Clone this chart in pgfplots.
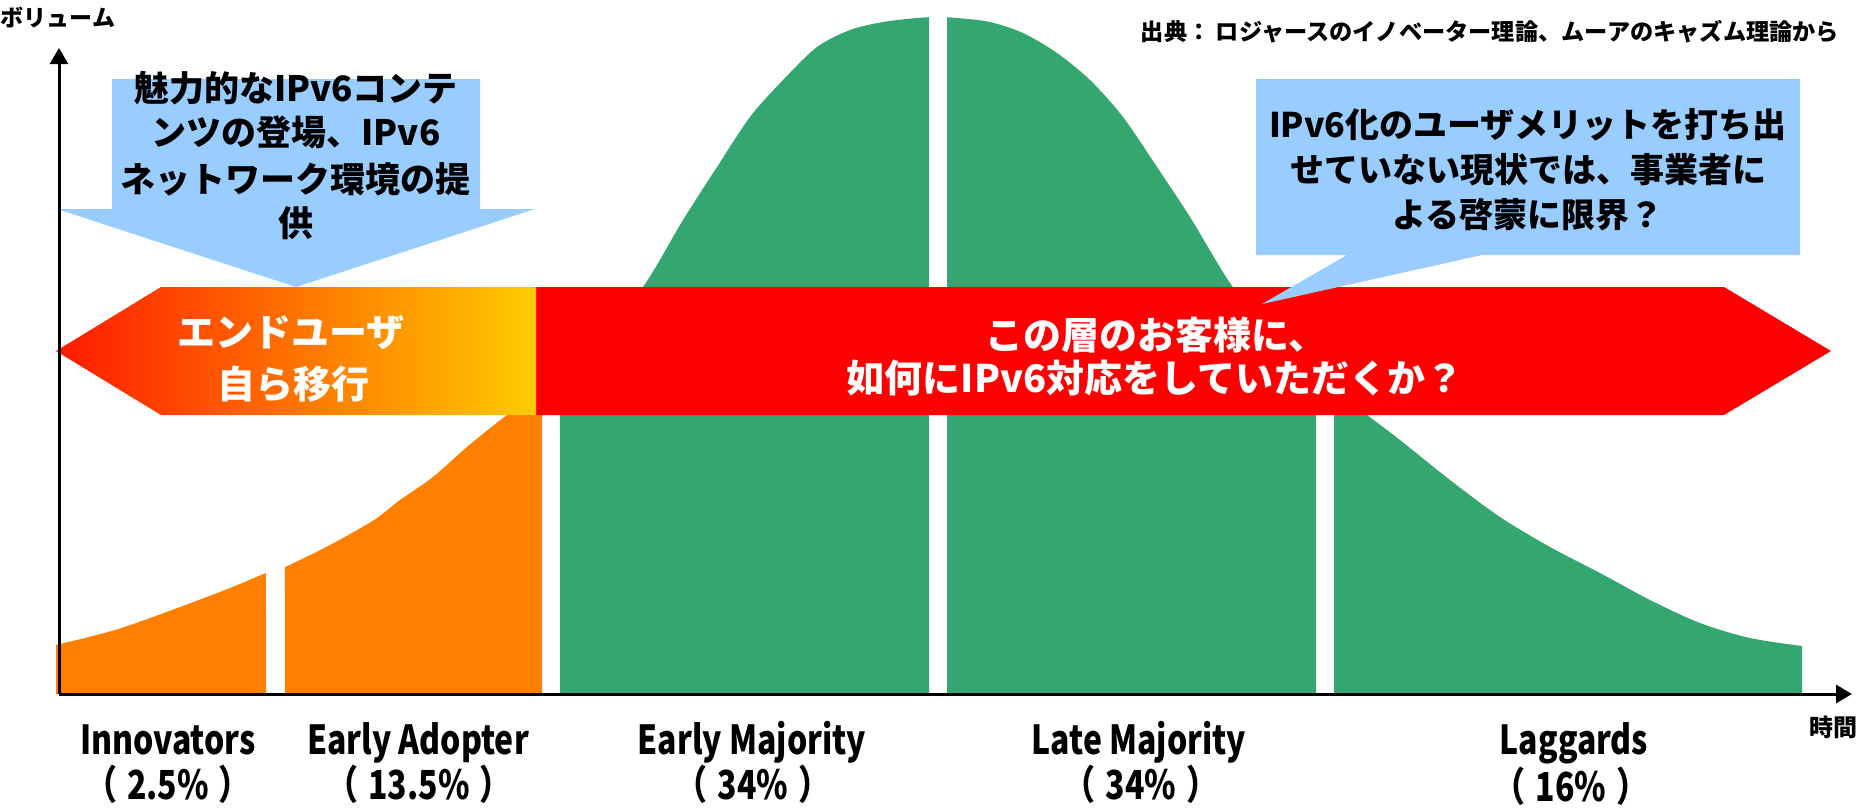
\documentclass[border=0pt]{standalone}
\usepackage{fontspec}
\setmainfont{Noto Sans CJK JP}
\newfontfamily\cond{Noto Sans CJK JP}[FakeStretch=0.8]
\usepackage{pgfplots}
\pgfplotsset{compat=1.18}
\usepgfplotslibrary{fillbetween}
\usetikzlibrary{arrows.meta}
\definecolor{bellgreen}{RGB}{52,167,112}
\definecolor{bellorange}{RGB}{255,128,0}
\definecolor{calloutblue}{RGB}{153,204,255}
\definecolor{gradA}{RGB}{255,26,0}
\definecolor{gradB}{RGB}{255,125,0}
\definecolor{gradC}{RGB}{255,204,0}
\definecolor{bandred}{RGB}{255,0,0}
\tikzset{
  jp/.style={inner sep=0pt, anchor=center, text height=#1*0.76, text depth=0pt,
     font=\bfseries\fontsize{#1}{#1}\selectfont},
  lb/.style={inner sep=0pt, anchor=center, text height=7.6pt, text depth=0pt,
     font=\cond\bfseries\fontsize{10pt}{10pt}\selectfont},
}
\newcommand{\pct}[1]{（\hspace{0.25em}#1\hspace{0.25em}）}

\begin{document}
\begin{tikzpicture}
\begin{axis}[
  x=0.25pt, y=0.25pt,
  xmin=59, xmax=1852, ymin=114, ymax=760,
  axis x line=bottom, axis y line=left,
  axis line style={line width=0.75pt, -{Triangle[width=4.5pt,length=4pt]}},
  xtick=\empty, ytick=\empty,
  clip=false, axis on top,
]
% ---- bell curve (adopter distribution) ----
\addplot[name path=bell, draw=none, smooth] coordinates {
 (56,163) (115,178) (172,198) (230,220) (266,235) (285,241) (330,263)
 (374,288) (400,308) (433,331) (467,361) (507,393) (560,430) (600,472)
 (643,521) (683,588) (717,641) (750,691) (783,728) (817,761) (850,778)
 (883,786) (917,790) (938,791) (957,790) (990,786) (1023,775) (1057,755)
 (1090,728) (1123,691) (1157,641) (1190,591) (1230,525) (1260,490)
 (1300,448) (1340,413) (1367,393) (1400,368)
 (1450,328) (1500,291) (1550,261) (1600,235) (1650,208) (1700,185)
 (1750,170) (1802,162)};
\addplot[name path=base, draw=none] coordinates {(56,114) (1802,114)};
\addplot[fill=bellorange, draw=none] fill between[of=bell and base, soft clip={domain=56:266}];
\addplot[fill=bellorange, draw=none] fill between[of=bell and base, soft clip={domain=285:542}];
\addplot[fill=bellgreen, draw=none] fill between[of=bell and base, soft clip={domain=560:929}];
\addplot[fill=bellgreen, draw=none] fill between[of=bell and base, soft clip={domain=947:1316}];
\addplot[fill=bellgreen, draw=none] fill between[of=bell and base, soft clip={domain=1334:1802}];

% ---- big arrow band ----
\fill[bandred] (536,521) -- (1724,521) -- (1831,457) -- (1724,393) -- (536,393) -- cycle;
\shade[left color=gradA, middle color=gradB, right color=gradC]
  (56,457) -- (161,521) -- (536,521) -- (536,393) -- (161,393) -- cycle;

% ---- callouts ----
\fill[calloutblue] (112,729) -- (480,729) -- (480,599) -- (535,599) -- (296,521)
  -- (57,599) -- (112,599) -- cycle;
\fill[calloutblue] (1256,729) -- (1800,729) -- (1800,553) -- (1482,553) -- (1262,504)
  -- (1347,553) -- (1256,553) -- cycle;

\node[jp=8.75pt] at (296,720) {魅力的なIPv6コンテ};
\node[jp=8.75pt] at (296,676) {ンツの登場、IPv6};
\node[jp=8.75pt] at (296,629) {ネットワーク環境の提};
\node[jp=8.75pt] at (296,585) {供};

\node[jp=8.5pt] at (1528,683) {IPv6化のユーザメリットを打ち出};
\node[jp=8.5pt] at (1528,638) {せていない現状では、事業者に};
\node[jp=8.5pt] at (1528,593) {よる啓蒙に限界？};

\node[jp=9.5pt, text=white] at (291,476) {エンドユーザ};
\node[jp=9.5pt, text=white] at (293,424) {自ら移行};
\node[jp=9.5pt, text=white] at (1156,473) {この層のお客様に、};
\node[jp=9.5pt, text=white] at (1155,430) {如何にIPv6対応をしていただくか？};

% ---- axis titles and source ----
\node[jp=5.75pt] at (58,790) {ボリューム};
\node[jp=6pt] at (1833,81) {時間};
\node[jp=5.8pt] at (1490,776) {出典： ロジャースのイノベーター理論、ムーアのキャズム理論から};

% ---- category labels ----
\node[lb] at (168,69) {Innovators};
\node[lb] at (168,24) {\pct{2.5\%}};
\node[lb] at (418,69) {Early Adopter};
\node[lb] at (419,24) {\pct{13.5\%}};
\node[lb] at (752,69) {Early Majority};
\node[lb] at (753,24) {\pct{34\%}};
\node[lb] at (1139,69) {Late Majority};
\node[lb] at (1141,24) {\pct{34\%}};
\node[lb] at (1574,69) {Laggards};
\node[lb] at (1571,22) {\pct{16\%}};

\coordinate (BL) at (0,0);
\coordinate (TR) at (1864,808);
\end{axis}
\pgfresetboundingbox
\path[use as bounding box] (BL) rectangle (TR);
\end{tikzpicture}
\end{document}
